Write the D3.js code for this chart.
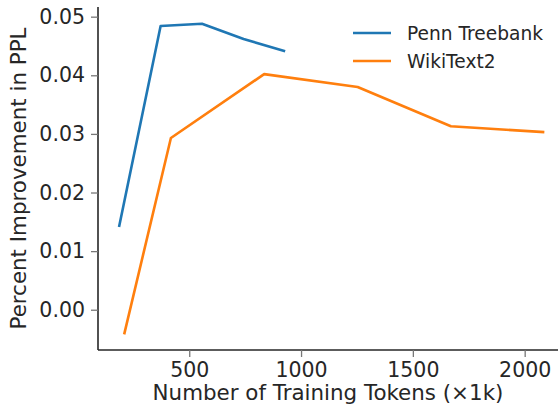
<!DOCTYPE html>
<html>
<head>
<meta charset="utf-8">
<script src="https://cdn.jsdelivr.net/npm/d3@7"></script>
<style>
body{margin:0;background:#fff;}
text{font-family:"DejaVu Sans",sans-serif;fill:#262626;}
</style>
</head>
<body>
<div class="box"></div>
<script>
// data
const ptbTokens=[186,372,557,743,929];
const ptbGain=[0.0141,0.0484,0.0488,0.0462,0.0441];
const wikiTokens=[209,418,835,1253,1670,2088];
const wikiGain=[-0.0042,0.0293,0.0402,0.0380,0.0313,0.0303];
const seriesNames=['Penn Treebank','WikiText2'];
const colors=['#1f77b4','#ff7f0e'];
const xTicks=[500,1000,1500,2000];
const yTicks=[0,0.01,0.02,0.03,0.04,0.05];

const W=558,H=408;
const margin={top:7,right:0,bottom:58,left:98};
const graphW=W-margin.left-margin.right;
const graphH=H-margin.top-margin.bottom;

const svg=d3.select('.box').append('svg').attr('width',W).attr('height',H);
const g=svg.append('g').attr('transform',`translate(${margin.left},${margin.top})`);

const x=d3.scaleLinear().domain([92,2149]).range([0,graphW]);
const y=d3.scaleLinear().domain([-0.00687,0.05165]).range([graphH,0]);

const axeX=d3.axisBottom(x).tickValues(xTicks).tickSize(7).tickPadding(5).tickFormat(d3.format('d'));
const axeY=d3.axisLeft(y).tickValues(yTicks).tickSize(7).tickPadding(6).tickFormat(d3.format('.2f'));

const gX=g.append('g').attr('transform',`translate(0,${graphH})`).call(axeX);
const gY=g.append('g').call(axeY);
[gX,gY].forEach(a=>{
  a.select('.domain').attr('stroke','#262626').attr('stroke-width',1.6);
  a.selectAll('.tick line').attr('stroke','#777').attr('stroke-width',1.3);
  a.selectAll('.tick text').style('font-size','20.5px').attr('fill','#262626');
});
// drop the outer ticks of the domain path
gX.select('.domain').attr('d',`M0,0H${graphW}`);
gY.select('.domain').attr('d',`M0,${graphH}V0`);

const line=d3.line().x(d=>x(d[0])).y(d=>y(d[1]));
const series=[d3.zip(ptbTokens,ptbGain),d3.zip(wikiTokens,wikiGain)];
series.forEach((s,i)=>{
  g.append('path').datum(s).attr('d',line)
    .attr('fill','none').attr('stroke',colors[i]).attr('stroke-width',2.6)
    .attr('stroke-linejoin','round');
});

// axis labels
svg.append('text').attr('x',margin.left+graphW/2).attr('y',400)
  .attr('text-anchor','middle').style('font-size','21.4px')
  .text('Number of Training Tokens (×1k)');
svg.append('text').attr('transform',`translate(26,${margin.top+graphH/2}) rotate(-90)`)
  .attr('text-anchor','middle').style('font-size','21.4px')
  .text('Percent Improvement in PPL');

// legend
const leg=svg.append('g').attr('transform','translate(353,33)');
seriesNames.forEach((n,i)=>{
  leg.append('line').attr('x1',0).attr('x2',38).attr('y1',i*28).attr('y2',i*28)
    .attr('stroke',colors[i]).attr('stroke-width',2.6);
  leg.append('text').attr('x',54).attr('y',i*28+7).style('font-size','18.6px').text(n);
});
</script>
</body>
</html>
